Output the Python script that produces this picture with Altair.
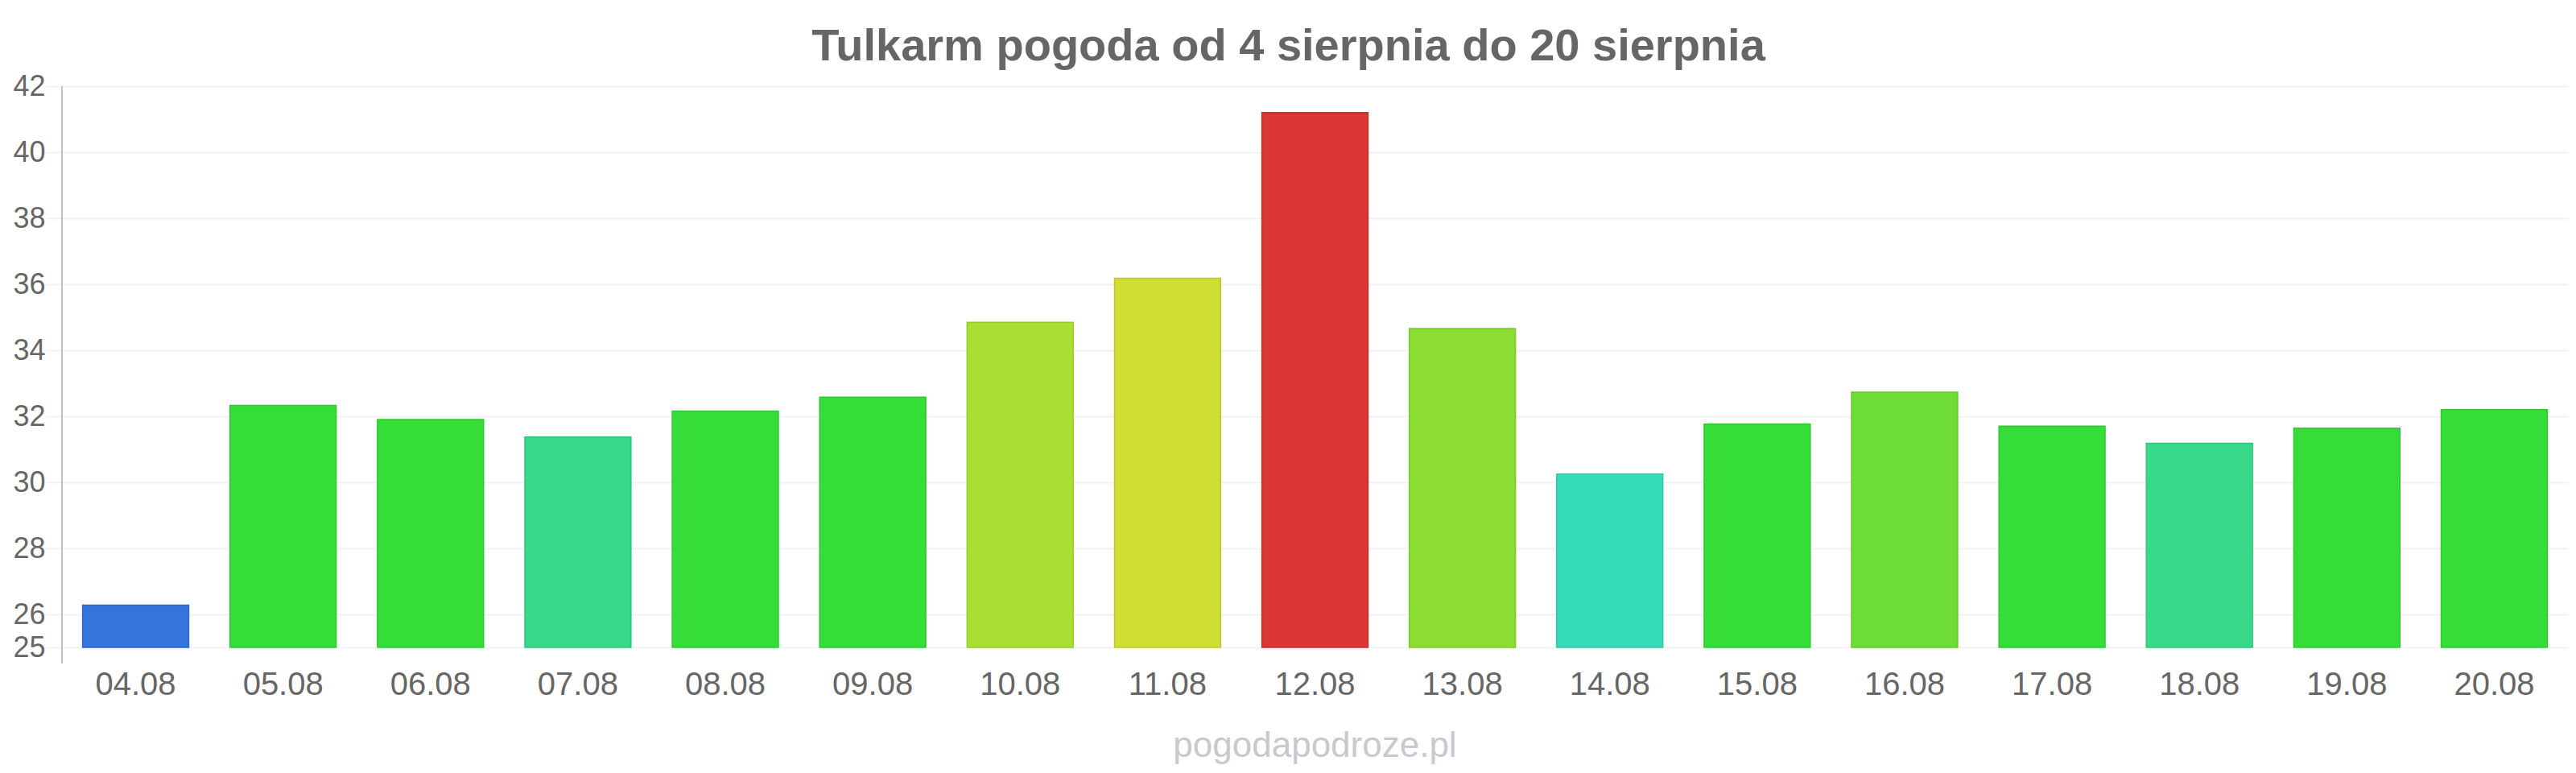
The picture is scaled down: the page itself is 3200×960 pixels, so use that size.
import altair as alt
import pandas as pd

days = ["04.08", "05.08", "06.08", "07.08", "08.08", "09.08", "10.08", "11.08", "12.08",
        "13.08", "14.08", "15.08", "16.08", "17.08", "18.08", "19.08", "20.08"]
temps = [26.28, 32.33, 31.90, 31.37, 32.16, 32.58, 34.85, 36.18, 41.2,
         34.66, 30.25, 31.76, 32.73, 31.70, 31.18, 31.64, 32.2]
colors = ["#3474db", "#36dd38", "#36dd38", "#38da8a", "#36dd38", "#36dd38", "#aade33", "#cfdd35", "#db3535",
          "#8bdd33", "#36dbb8", "#36dd38", "#6ddd35", "#36dd38", "#38da8a", "#36dd38", "#36dd38"]
strokes = ["#2f68c6", "#30c832", "#30c832", "#32c47c", "#30c832", "#30c832", "#99c82e", "#bac730", "#c53030",
           "#7dc72e", "#30c5a6", "#30c832", "#62c730", "#30c832", "#32c47c", "#30c832", "#30c832"]
y_ticks = [25, 26, 28, 30, 32, 34, 36, 38, 40, 42]
y_base = 25

title_text = "Tulkarm pogoda od 4 sierpnia do 20 sierpnia"
watermark = "pogodapodroze.pl"

W, H = 3113, 697

df = pd.DataFrame({"day": days, "temp": temps, "color": colors, "stroke": strokes})

bars = alt.Chart(df).mark_bar(strokeWidth=1.5).encode(
    x=alt.X("day:N", sort=days,
            scale=alt.Scale(paddingInner=0.28, paddingOuter=0.14),
            axis=alt.Axis(title=None, labelAngle=0, labelFontSize=40, labelColor="#666666",
                          labelFont="Liberation Sans", ticks=False, tickSize=0, domain=False,
                          labelBaseline="alphabetic", labelPadding=58, grid=False)),
    y=alt.Y("temp:Q", scale=alt.Scale(domain=[25, 42], nice=False, zero=False),
            axis=alt.Axis(title=None, values=y_ticks, labelFontSize=36, labelColor="#666666",
                          labelFont="Liberation Sans", tickSize=20, tickColor="#f2f2f2",
                          tickWidth=2, labelPadding=1, domain=False, grid=True,
                          gridColor="#f2f2f2", gridWidth=2, labelBaseline="middle")),
    y2=alt.datum(y_base),
    color=alt.Color("color:N", scale=None),
    stroke=alt.Stroke("stroke:N", scale=None),
)

axis_line = alt.Chart(df).mark_rule(color="#c0c0c0", strokeWidth=2).encode(
    x=alt.value(0), y=alt.value(0), y2=alt.value(H + 20)
)

wm = alt.Chart(pd.DataFrame({"t": [watermark]})).mark_text(
    fontSize=44, color="#c8c8ce", font="Liberation Sans", baseline="alphabetic", align="center"
).encode(text="t:N", x=alt.value(W / 2), y=alt.value(833))

chart = alt.layer(bars, axis_line, wm).properties(
    width=W, height=H,
    title=alt.TitleParams(title_text, fontSize=56, font="Liberation Sans", fontWeight="bold",
                          color="#666666", anchor="middle", dx=-33, dy=18, offset=20),
    autosize=alt.AutoSizeParams(type="none"),
    padding={"left": 69, "top": 99, "right": 2, "bottom": 146},
).configure_view(stroke=None)

chart.save("out.html", embed_options={"renderer": "svg", "actions": False})
